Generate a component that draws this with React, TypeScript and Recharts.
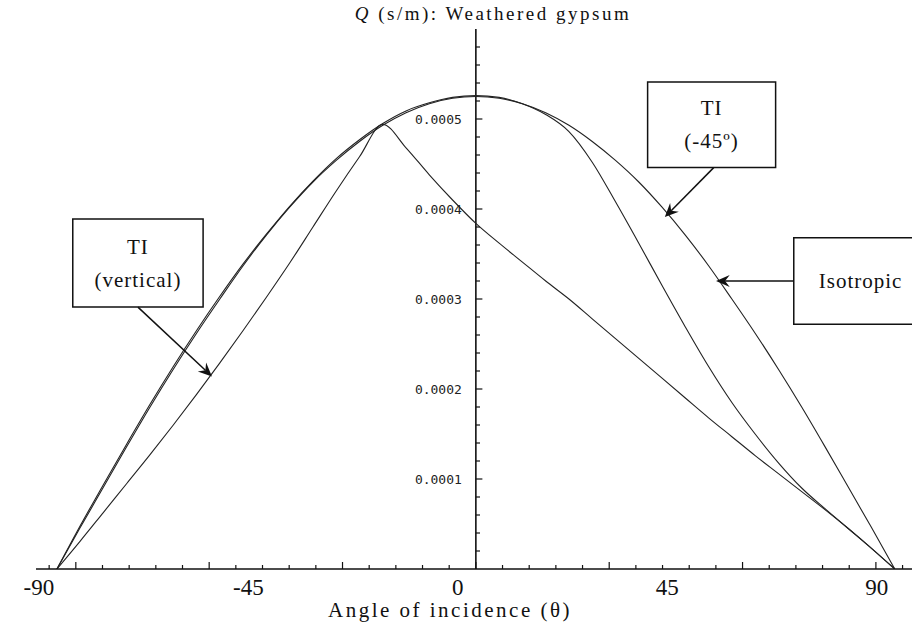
import { LineChart, Line, XAxis, YAxis, ReferenceLine, ReferenceArea } from "recharts"

// angle of incidence, degrees
const ANGLES = [
  -90, -85, -80, -75, -70, -65, -60, -55, -50, -45, -40, -35, -30, -25, -20, -15, -10, -5, 0,
  5, 10, 15, 20, 25, 30, 35, 40, 45, 50, 55, 60, 65, 70, 75, 80, 85, 90,
]

// Q in s/m
const ISOTROPIC = [
  0, 0.000046, 0.000091, 0.000136, 0.00018, 0.000222, 0.000262, 0.0003, 0.000337, 0.000371,
  0.000402, 0.00043, 0.000454, 0.000475, 0.000493, 0.000507, 0.000517, 0.000523, 0.000525,
  0.000523, 0.000517, 0.000507, 0.000493, 0.000475, 0.000454, 0.00043, 0.000402, 0.000371,
  0.000337, 0.0003, 0.000262, 0.000222, 0.00018, 0.000136, 0.000091, 0.000046, 0,
]

const TI_TILTED = [
  0, 0.000048, 0.000094, 0.000139, 0.000183, 0.000225, 0.000265, 0.000303, 0.000339, 0.000372,
  0.000403, 0.000431, 0.000456, 0.000477, 0.000495, 0.000509, 0.000518, 0.000524, 0.000526,
  0.000524, 0.000517, 0.000505, 0.000486, 0.000452, 0.000408, 0.000362, 0.000315, 0.000269,
  0.000225, 0.000185, 0.00015, 0.000118, 0.00009, 0.000067, 0.000045, 0.000023, 0,
]

const TI_VERTICAL = [
  0, 0.000031, 0.000063, 0.000095, 0.000127, 0.00016, 0.000194, 0.000229, 0.000265, 0.000302,
  0.00034, 0.00038, 0.00042, 0.000458, 0.000494, 0.000468, 0.000438, 0.00041, 0.000384,
  0.000362, 0.000341, 0.00032, 0.0003, 0.000278, 0.000256, 0.000234, 0.000212, 0.00019,
  0.000168, 0.000147, 0.000126, 0.000106, 0.000086, 0.000066, 0.000045, 0.000023, 0,
]

const X_LABELS = [-90, -45, 0, 45, 90]
// tick marks every 0.1 rad, longer every 0.5 rad
const X_MARKS_RAD = [
  -1.6, -1.5, -1.4, -1.3, -1.2, -1.1, -1.0, -0.9, -0.8, -0.7, -0.6, -0.5, -0.4, -0.3, -0.2, -0.1, 0,
  0.1, 0.2, 0.3, 0.4, 0.5, 0.6, 0.7, 0.8, 0.9, 1.0, 1.1, 1.2, 1.3, 1.4, 1.5, 1.6,
]
const X_MAJOR_RAD = [-1.5, -1.0, -0.5, 0, 0.5, 1.0, 1.5]

const Y_TICKS = [
  0.00002, 0.00004, 0.00006, 0.00008, 0.0001, 0.00012, 0.00014, 0.00016, 0.00018, 0.0002,
  0.00022, 0.00024, 0.00026, 0.00028, 0.0003, 0.00032, 0.00034, 0.00036, 0.00038, 0.0004,
  0.00042, 0.00044, 0.00046, 0.00048, 0.0005, 0.00052, 0.00054, 0.00056, 0.00058,
]
const Y_LABELS = ["0.0001", "0.0002", "0.0003", "0.0004", "0.0005"]

const rows = ANGLES.map((angle, i) => ({
  angle,
  iso: ISOTROPIC[i],
  tilted: TI_TILTED[i],
  vertical: TI_VERTICAL[i],
}))

const toDeg = (r: number) => (r * 180) / Math.PI
const markDegs = X_MARKS_RAD.map(toDeg)
const xTicks = Array.from(new Set([...markDegs, ...X_LABELS])).sort((a, b) => a - b)

const near = (a: number, b: number) => Math.abs(a - b) < 1e-7
const serif = "'Liberation Serif', 'Times New Roman', serif"
const ink = "#111"

function XTick(props: any) {
  const { x, y, payload } = props
  const v = payload.value as number
  const isMark = markDegs.some((m) => near(m, v))
  const isMajor = X_MAJOR_RAD.some((r) => near(toDeg(r), v))
  const isLabel = X_LABELS.includes(v)
  return (
    <g>
      {isMark && <line x1={x} x2={x} y1={y} y2={y - (isMajor ? 7 : 4)} stroke={ink} strokeWidth={1.2} />}
      {isLabel && (
        <text x={x - 18} y={y + 26} textAnchor="middle" fontFamily={serif} fontSize={23} fill={ink}>
          {v}
        </text>
      )}
    </g>
  )
}

function Arrow(props: any) {
  const { x1, y1, x2, y2 } = props
  const ang = Math.atan2(y2 - y1, x2 - x1)
  const len = 15
  const half = 0.42
  const back = 9
  const ax = x2 - len * Math.cos(ang - half)
  const ay = y2 - len * Math.sin(ang - half)
  const bx = x2 - len * Math.cos(ang + half)
  const by = y2 - len * Math.sin(ang + half)
  const cx = x2 - back * Math.cos(ang)
  const cy = y2 - back * Math.sin(ang)
  return (
    <g>
      <line x1={x1} y1={y1} x2={cx} y2={cy} stroke={ink} strokeWidth={1.5} />
      <path d={`M${x2},${y2} L${ax},${ay} L${cx},${cy} L${bx},${by} Z`} fill={ink} />
    </g>
  )
}

function boxLabel(lines: string[]) {
  return (props: any) => {
    const { x, y, width, height } = props.viewBox
    const cx = x + width / 2
    const step = 33
    const top = y + height / 2 - ((lines.length - 1) * step) / 2 + 7
    return (
      <text textAnchor="middle" fontFamily={serif} fontSize={21} letterSpacing={1} fill={ink}>
        {lines.map((t, i) => (
          <tspan key={t} x={cx} y={top + i * step}>
            {t}
          </tspan>
        ))}
      </text>
    )
  }
}

export default function App() {
  return (
    <div style={{ position: "absolute", left: 0, top: 0, width: 912, height: 632, background: "#fff" }}>
      <LineChart width={912} height={632} data={rows} margin={{ top: 29, right: 0, bottom: 23, left: 36 }}>
        <XAxis
          type="number"
          dataKey="angle"
          domain={[-94.5, 93.7]}
          allowDataOverflow
          ticks={xTicks}
          interval={0}
          height={40}
          tickSize={0}
          tickMargin={0}
          tickLine={false}
          axisLine={{ stroke: ink, strokeWidth: 1.6 }}
          tick={(p: any) => <XTick {...p} />}
        />
        <YAxis type="number" hide domain={[0, 0.0006]} allowDataOverflow />

        <ReferenceLine x={0} stroke={ink} strokeWidth={1.6} />
        {Y_TICKS.map((v) => {
          const label = Y_LABELS.find((l) => near(Number(l), v))
          return (
            <ReferenceLine
              key={v}
              segment={[
                { x: 0, y: v },
                { x: label ? 1.4 : 0.9, y: v },
              ]}
              stroke={ink}
              strokeWidth={1.2}
              label={
                label
                  ? {
                      value: label,
                      position: "left",
                      offset: 14,
                      fill: "#222",
                      fontSize: 13,
                      fontFamily: "'DejaVu Sans Mono', monospace",
                    }
                  : undefined
              }
            />
          )
        })}

        <Line dataKey="iso" type="monotone" stroke="#222" strokeWidth={1.1} dot={false} isAnimationActive={false} />
        <Line dataKey="tilted" type="monotone" stroke="#222" strokeWidth={1.1} dot={false} isAnimationActive={false} />
        <Line dataKey="vertical" type="monotone" stroke="#222" strokeWidth={1.1} dot={false} isAnimationActive={false} />

        <ReferenceArea x1={-86.6} x2={-58.6} y1={0.000291} y2={0.000389} fill="#fff" fillOpacity={1} stroke={ink} strokeWidth={1.5} ifOverflow="visible" label={boxLabel(["TI", "(vertical)"])} />
        <ReferenceArea x1={36.9} x2={64.4} y1={0.000446} y2={0.000541} fill="#fff" fillOpacity={1} stroke={ink} strokeWidth={1.5} ifOverflow="visible" label={boxLabel(["TI", "(-45º)"])} />
        <ReferenceArea x1={68.3} x2={97} y1={0.000272} y2={0.000368} fill="#fff" fillOpacity={1} stroke={ink} strokeWidth={1.5} ifOverflow="visible" label={boxLabel(["Isotropic"])} />

        <ReferenceLine segment={[{ x: -72.6, y: 0.000291 }, { x: -56.7, y: 0.000214 }]} ifOverflow="visible" shape={(p: any) => <Arrow {...p} />} />
        <ReferenceLine segment={[{ x: 51.1, y: 0.000446 }, { x: 40.6, y: 0.000391 }]} ifOverflow="visible" shape={(p: any) => <Arrow {...p} />} />
        <ReferenceLine segment={[{ x: 68.3, y: 0.00032 }, { x: 51.6, y: 0.00032 }]} ifOverflow="visible" shape={(p: any) => <Arrow {...p} />} />
      </LineChart>

      <svg width={912} height={632} style={{ position: "absolute", left: 0, top: 0, pointerEvents: "none" }}>
        <text x={493} y={20} textAnchor="middle" fontFamily={serif} fontSize={19} fill={ink} letterSpacing={2.5}>
          <tspan fontStyle="italic">Q</tspan> (s/m): Weathered gypsum
        </text>
        <text x={450} y={617} textAnchor="middle" fontFamily={serif} fontSize={21} fill={ink} letterSpacing={2.5}>
          Angle of incidence (θ)
        </text>
      </svg>
    </div>
  )
}
